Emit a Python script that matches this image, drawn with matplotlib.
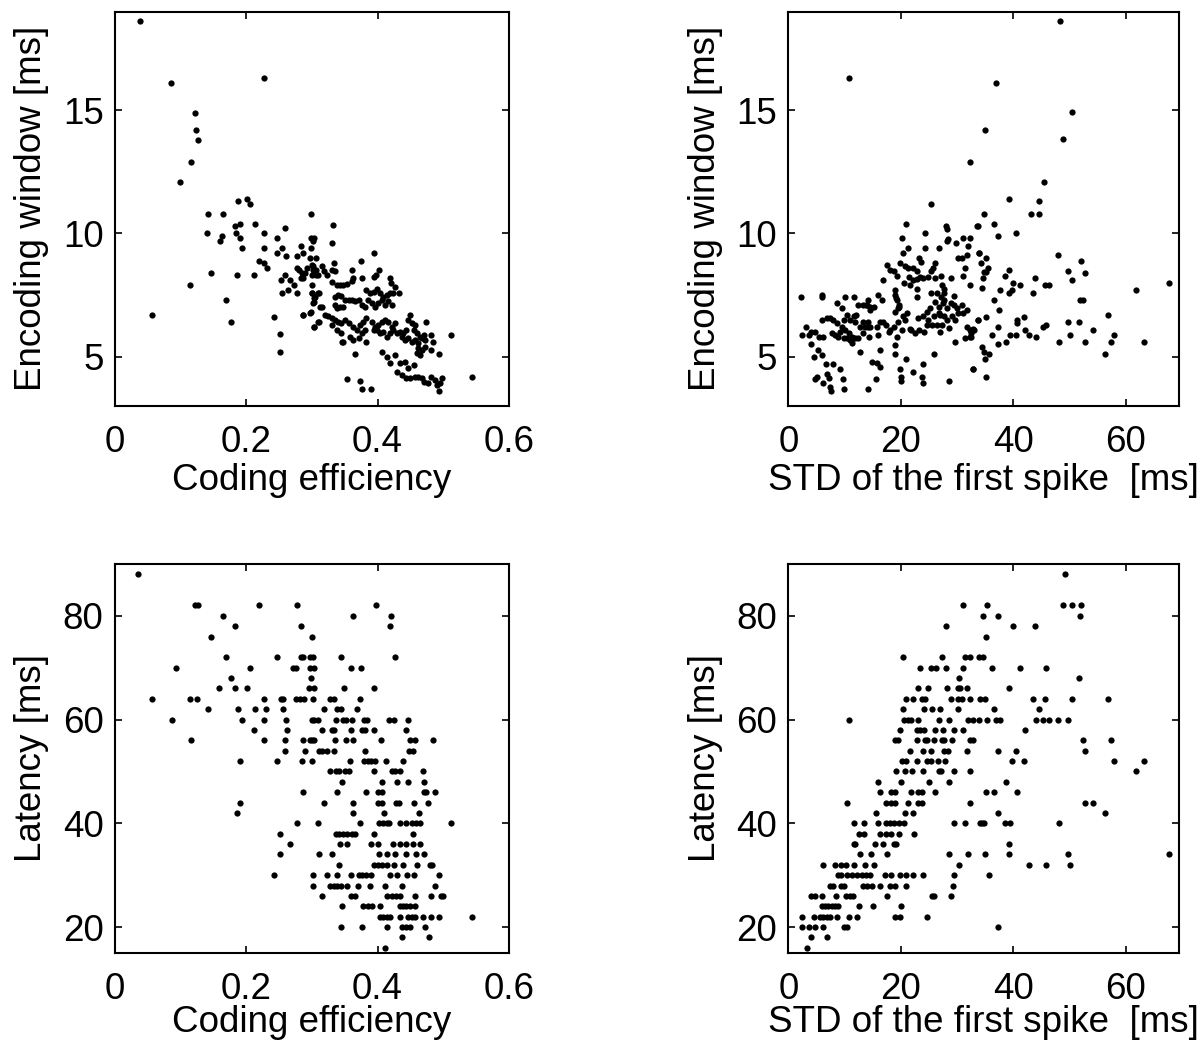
import numpy as np
import matplotlib
matplotlib.use("Agg")
import matplotlib.pyplot as plt

plt.rcParams['font.family'] = ['Liberation Sans', 'DejaVu Sans']

# ---------------- Panel A: coding efficiency vs encoding window ----------------
eff_vs_window = [
    (0.039, 18.6), (0.086, 16.1), (0.227, 16.3), (0.122, 14.9), (0.124, 14.2), (0.126, 13.8),
    (0.116, 12.9), (0.099, 12.1), (0.187, 11.3), (0.202, 11.4), (0.206, 11.2),
    (0.142, 10.8), (0.165, 10.8), (0.299, 10.8), (0.140, 10.0), (0.183, 10.3), (0.190, 10.4),
    (0.214, 10.4), (0.184, 10.0), (0.164, 9.9), (0.160, 9.7), (0.190, 9.8), (0.227, 10.0),
    (0.259, 10.2), (0.247, 9.8), (0.298, 9.8), (0.302, 9.7), (0.303, 9.8),
    (0.193, 9.4), (0.227, 9.4), (0.255, 9.4), (0.247, 9.2), (0.260, 9.1), (0.283, 9.5),
    (0.287, 9.2), (0.277, 9.1), (0.298, 9.4), (0.220, 8.9), (0.227, 8.8), (0.231, 8.6),
    (0.147, 8.4), (0.186, 8.3), (0.212, 8.3), (0.115, 7.9), (0.253, 8.1), (0.259, 8.3),
    (0.266, 8.1), (0.273, 7.9), (0.255, 7.6), (0.263, 7.7), (0.277, 7.6),
    (0.277, 8.6), (0.280, 8.5), (0.285, 8.4), (0.287, 8.2), (0.290, 8.4), (0.283, 8.2),
    (0.292, 8.6), (0.297, 9.0), (0.300, 8.7), (0.307, 9.0), (0.302, 8.5), (0.307, 8.3),
    (0.300, 8.3), (0.300, 7.9), (0.300, 7.6), (0.303, 7.4), (0.304, 7.2), (0.311, 7.6),
    (0.299, 6.8), (0.304, 6.2), (0.310, 6.4), (0.313, 7.0), (0.287, 6.7), (0.170, 7.3),
    (0.177, 6.4), (0.057, 6.7), (0.242, 6.6), (0.251, 5.9), (0.252, 5.2),
    (0.332, 10.33), (0.331, 9.61), (0.394, 9.20), (0.375, 8.90), (0.334, 8.82),
    (0.302, 8.66), (0.307, 8.52), (0.315, 8.69), (0.310, 8.32), (0.319, 8.46), (0.323, 8.32),
    (0.330, 8.52), (0.335, 8.46), (0.361, 8.50), (0.402, 8.50), (0.398, 8.32), (0.395, 8.23),
    (0.376, 8.19), (0.363, 8.19), (0.419, 8.19), (0.420, 7.98), (0.331, 8.01), (0.338, 7.91),
    (0.343, 7.91), (0.348, 7.91), (0.353, 7.94), (0.361, 8.05), (0.427, 7.81),
    (0.383, 7.71), (0.389, 7.58), (0.394, 7.64), (0.399, 7.74), (0.404, 7.58), (0.409, 7.44),
    (0.414, 7.51), (0.419, 7.58), (0.424, 7.60), (0.433, 7.58),
    (0.300, 7.58), (0.305, 7.44), (0.310, 7.58),
    (0.335, 7.44), (0.340, 7.51), (0.345, 7.47), (0.350, 7.30), (0.356, 7.30), (0.361, 7.30),
    (0.366, 7.24), (0.371, 7.30), (0.376, 7.10), (0.381, 7.03),
    (0.386, 7.30), (0.391, 7.17), (0.396, 7.03), (0.401, 7.17), (0.406, 7.30), (0.411, 7.10),
    (0.416, 7.24), (0.422, 7.10),
    (0.335, 7.10), (0.338, 6.97), (0.343, 7.03), (0.348, 7.00),
    (0.302, 7.17), (0.287, 6.69), (0.297, 6.79), (0.315, 7.01),
    (0.320, 6.69), (0.325, 6.63), (0.330, 6.56), (0.335, 6.49), (0.340, 6.42), (0.345, 6.36),
    (0.350, 6.49), (0.356, 6.36), (0.363, 6.22), (0.368, 6.09), (0.373, 6.29), (0.378, 6.42),
    (0.383, 6.56),
    (0.330, 6.29), (0.338, 6.09), (0.345, 5.95), (0.348, 5.61), (0.358, 5.81), (0.363, 5.68),
    (0.371, 5.75), (0.376, 5.95), (0.381, 6.09), (0.383, 5.61),
    (0.391, 6.42), (0.396, 6.22), (0.401, 6.29), (0.406, 6.42), (0.411, 6.49), (0.416, 6.42),
    (0.422, 6.22), (0.427, 6.36),
    (0.394, 6.09), (0.399, 6.09), (0.404, 5.95), (0.409, 6.02), (0.414, 5.81), (0.419, 5.95),
    (0.424, 6.09), (0.429, 5.95), (0.434, 6.02), (0.439, 5.95), (0.444, 6.09), (0.449, 6.69),
    (0.447, 6.49), (0.452, 6.36), (0.457, 6.29), (0.455, 6.09), (0.460, 5.95), (0.465, 5.81),
    (0.470, 5.88), (0.474, 6.42),
    (0.437, 5.81), (0.442, 5.68), (0.447, 5.75), (0.452, 5.61), (0.457, 5.68), (0.462, 5.54),
    (0.467, 5.75), (0.472, 5.68), (0.482, 5.88), (0.484, 5.61), (0.493, 5.10), (0.511, 5.88),
    (0.406, 5.20), (0.414, 5.00), (0.419, 4.73), (0.427, 5.07), (0.434, 4.73), (0.442, 4.80),
    (0.447, 4.53), (0.455, 4.66), (0.460, 5.14), (0.462, 5.34), (0.467, 5.27), (0.472, 5.41),
    (0.482, 5.27), (0.465, 5.07),
    (0.429, 4.39), (0.437, 4.26), (0.444, 4.12), (0.449, 4.12), (0.457, 4.19), (0.462, 4.19),
    (0.467, 4.12), (0.470, 3.98), (0.477, 3.92), (0.482, 4.19), (0.487, 4.05), (0.490, 3.85),
    (0.495, 3.94), (0.498, 4.12), (0.494, 3.61), (0.544, 4.19),
    (0.353, 4.09), (0.373, 4.01), (0.376, 3.69), (0.390, 3.69),
    (0.365, 5.10), (0.346, 5.60), (0.303, 6.22), (0.311, 6.42),
]

# ---------------- Panel B: STD of first spike vs encoding window ----------------
std_vs_window = [
    (48.3, 18.6), (10.7, 16.3), (36.9, 16.12), (50.5, 14.92), (35.0, 14.21), (48.9, 13.81),
    (32.3, 12.88), (45.5, 12.10), (25.3, 11.19), (39.2, 11.39), (44.5, 11.30),
    (20.9, 10.39), (28.0, 10.31), (28.2, 10.18), (28.3, 9.77), (28.2, 9.68), (24.3, 10.0),
    (33.6, 10.31), (20.2, 9.81), (31.0, 9.81), (29.8, 9.63), (32.3, 9.81), (32.0, 9.47),
    (33.8, 9.20), (21.3, 9.41), (20.4, 9.20), (24.2, 9.41), (26.8, 9.41), (23.3, 9.0),
    (23.5, 8.86), (26.0, 8.80), (25.7, 8.59), (25.4, 8.46),
    (19.9, 8.80), (20.7, 8.66), (21.3, 8.59), (22.1, 8.59), (22.8, 8.46), (23.4, 8.25),
    (24.0, 8.19), (24.9, 8.25), (26.1, 8.19),
    (17.6, 8.73), (18.1, 8.53), (18.7, 8.46), (19.3, 8.28), (16.9, 8.12),
    (21.5, 8.25), (22.1, 8.09), (22.8, 8.14), (20.6, 7.98), (21.6, 7.91), (22.9, 7.74),
    (30.8, 9.0), (30.1, 9.0), (31.4, 8.59), (31.7, 9.13), (31.1, 8.28), (28.9, 8.19),
    (27.2, 8.28), (27.3, 7.91), (27.6, 7.74), (27.7, 7.6), (32.3, 7.91),
    (19.0, 7.71), (19.0, 7.51), (19.1, 7.37), (19.3, 7.30), (19.7, 7.03), (19.4, 6.97),
    (19.0, 6.83), (19.6, 7.10), (22.9, 7.41),
    (16.0, 7.51), (16.6, 7.30), (14.1, 7.30), (13.3, 7.10), (13.8, 7.10), (14.5, 7.01), (15.3, 7.01),
    (25.3, 7.58), (26.1, 7.20), (26.7, 7.03), (27.6, 7.30), (28.2, 6.97), (28.9, 7.17),
    (29.4, 7.47), (29.9, 6.97), (30.8, 7.10), (29.4, 7.10),
    (26.4, 7.58), (27.2, 7.44), (27.5, 7.17),
    (25.2, 6.97), (24.6, 6.83), (27.0, 6.69), (27.6, 6.63), (28.2, 6.49), (29.1, 6.63),
    (29.6, 6.49), (30.2, 6.76), (31.0, 6.79), (31.7, 6.90),
    (33.7, 6.49), (31.7, 6.22), (32.3, 6.09), (32.2, 5.81), (32.9, 6.11), (31.4, 5.75), (29.6, 5.61),
    (21.0, 6.76), (20.8, 6.49), (20.3, 6.63), (19.4, 6.42), (18.7, 6.22), (18.1, 6.09),
    (17.4, 6.29), (17.8, 6.02),
    (23.1, 6.56), (24.0, 6.63), (24.9, 6.49), (25.8, 6.63), (26.7, 6.76), (25.5, 6.29),
    (26.4, 6.29), (27.3, 6.29), (24.7, 6.29), (24.1, 6.02), (23.2, 6.09), (22.5, 5.95),
    (21.8, 6.09), (27.0, 6.02), (28.5, 6.15),
    (16.3, 6.42), (16.9, 6.42), (15.7, 6.22), (16.0, 5.88), (14.5, 6.22), (13.3, 6.42),
    (14.2, 6.42), (12.1, 6.69), (11.6, 6.63), (11.9, 6.42), (10.4, 6.69), (11.0, 6.49),
    (9.8, 6.49), (8.6, 7.17), (9.5, 6.97), (10.1, 7.44), (11.6, 7.44), (12.4, 7.10),
    (14.0, 7.10), (14.5, 6.90),
    (7.4, 6.56), (8.0, 6.49), (6.8, 6.56), (5.9, 6.49), (8.6, 6.36), (9.5, 6.22), (10.1, 6.09),
    (10.7, 5.95), (11.3, 5.81), (11.9, 5.75), (9.2, 6.02), (8.3, 5.88), (8.9, 5.81),
    (7.7, 5.95), (9.8, 5.75), (10.4, 5.75), (11.0, 5.68), (12.7, 6.22), (13.6, 6.22),
    (14.2, 6.22), (13.3, 5.95), (14.4, 5.81), (12.4, 5.75),
    (5.9, 7.51), (6.0, 7.44), (2.3, 7.41),
    (3.1, 6.22), (4.1, 6.02), (4.7, 6.02), (5.5, 5.81), (6.2, 5.81), (3.6, 5.88), (2.4, 5.88),
    (4.0, 5.51), (5.2, 5.27), (4.6, 5.00), (6.0, 5.07),
    (12.7, 5.20), (11.3, 5.54), (16.3, 5.27), (19.0, 5.48), (19.3, 5.81), (20.2, 6.09), (21.6, 6.11),
    (6.6, 4.70), (7.9, 4.70), (9.1, 4.49), (4.7, 4.11), (5.0, 4.16), (6.9, 4.30), (7.3, 4.12),
    (6.2, 3.92), (7.4, 3.78), (7.5, 3.61), (9.7, 4.09), (9.8, 3.67), (14.2, 3.67), (14.8, 4.80),
    (15.7, 4.73), (16.3, 4.59), (15.6, 4.09), (19.0, 5.11), (19.9, 4.49), (20.0, 4.16),
    (20.0, 4.03), (20.9, 4.89), (22.2, 4.39), (23.7, 4.19), (23.9, 3.92), (24.0, 4.70),
    (25.8, 5.11), (28.6, 4.01), (32.9, 4.50),
    (43.2, 10.80), (44.5, 10.80), (34.7, 10.80), (33.7, 10.31), (36.5, 10.39), (37.2, 9.91),
    (40.4, 10.0), (33.9, 9.20), (35.2, 9.0), (34.3, 8.80), (35.4, 8.59), (34.7, 8.42),
    (35.1, 8.42), (34.6, 8.19), (39.2, 8.50), (38.5, 8.28), (40.0, 7.98), (41.1, 7.90),
    (39.3, 7.60), (39.8, 7.71), (37.6, 7.71), (34.4, 7.79), (43.8, 8.20), (43.5, 7.59),
    (45.7, 7.90), (46.4, 7.90), (48.0, 9.11), (49.7, 8.48), (50.4, 8.10), (52.1, 8.90),
    (52.7, 8.40), (51.9, 7.30), (52.3, 7.30), (61.8, 7.70), (67.6, 7.99),
    (36.6, 7.30), (37.4, 6.91), (33.7, 6.50), (35.2, 6.59), (37.2, 6.21), (40.7, 6.49),
    (40.6, 6.38), (41.8, 6.59), (33.0, 6.10), (32.5, 5.95), (32.5, 5.81), (36.2, 5.88),
    (37.2, 5.50), (38.7, 5.58), (39.4, 5.88), (40.4, 5.88), (42.0, 6.10), (42.8, 5.88),
    (44.1, 5.80), (45.2, 6.21), (45.8, 6.29), (49.8, 6.41), (51.7, 6.41), (54.2, 6.09),
    (50.0, 5.88), (48.1, 5.58), (52.7, 5.58), (56.9, 6.69), (57.9, 5.88), (57.4, 5.58),
    (56.3, 5.10), (63.3, 5.58), (34.4, 5.41), (34.8, 5.20), (35.75, 5.10), (35.0, 4.89),
    (32.8, 4.50), (35.2, 4.19),
]

# ---------------- Panel C: coding efficiency vs latency (latency in 2 ms bins) ----------------
latency_rows = [88, 82, 80, 78, 76, 72, 70, 68, 66, 64, 62, 60, 58, 56, 54, 52, 50, 48, 46,
                44, 42, 40, 38, 36, 34, 32, 30, 28, 26, 24, 22, 20, 18, 16]
eff_by_latency = [
    [0.036],
    [0.122, 0.126, 0.220, 0.278, 0.398],
    [0.165, 0.362, 0.420],
    [0.183, 0.283, 0.419],
    [0.147, 0.300],
    [0.170, 0.247, 0.284, 0.287, 0.297, 0.302, 0.344, 0.427],
    [0.094, 0.206, 0.272, 0.276, 0.297, 0.304, 0.359, 0.375],
    [0.177, 0.299],
    [0.159, 0.183, 0.201, 0.296, 0.304, 0.349, 0.395],
    [0.057, 0.115, 0.125, 0.227, 0.253, 0.256, 0.276, 0.282, 0.288, 0.301, 0.328, 0.333, 0.374],
    [0.142, 0.187, 0.214, 0.230, 0.256, 0.319, 0.338, 0.345, 0.369],
    [0.087, 0.194, 0.227, 0.260, 0.300, 0.304, 0.309, 0.336, 0.348, 0.352, 0.361, 0.379, 0.384,
     0.418, 0.425, 0.447],
    [0.212, 0.262, 0.315, 0.330, 0.334, 0.359, 0.377, 0.381, 0.395, 0.444],
    [0.116, 0.227, 0.259, 0.287, 0.297, 0.300, 0.304, 0.335, 0.352, 0.363, 0.405, 0.449, 0.457, 0.484],
    [0.259, 0.290, 0.311, 0.316, 0.323, 0.334, 0.381, 0.448, 0.454],
    [0.190, 0.247, 0.285, 0.300, 0.358, 0.380, 0.385, 0.390, 0.396, 0.413, 0.438],
    [0.328, 0.337, 0.342, 0.350, 0.356, 0.395, 0.422, 0.427, 0.434, 0.469],
    [0.346, 0.407, 0.429, 0.446, 0.471],
    [0.287, 0.339, 0.382, 0.401, 0.406, 0.470, 0.474, 0.487],
    [0.190, 0.319, 0.362, 0.401, 0.406, 0.428, 0.433, 0.455, 0.477],
    [0.186, 0.363, 0.410, 0.463],
    [0.277, 0.309, 0.373, 0.402, 0.408, 0.414, 0.418, 0.434, 0.443, 0.453, 0.459, 0.464, 0.511],
    [0.251, 0.337, 0.342, 0.347, 0.353, 0.361, 0.366, 0.395, 0.454],
    [0.266, 0.343, 0.354, 0.390, 0.401, 0.424, 0.434, 0.444, 0.454, 0.464],
    [0.252, 0.311, 0.331, 0.402, 0.414, 0.426, 0.444, 0.458, 0.470],
    [0.342, 0.394, 0.400, 0.406, 0.415, 0.425, 0.438, 0.460, 0.480, 0.483],
    [0.243, 0.302, 0.323, 0.338, 0.359, 0.372, 0.377, 0.383, 0.390, 0.419, 0.429, 0.445, 0.456, 0.493],
    [0.301, 0.327, 0.333, 0.339, 0.345, 0.353, 0.370, 0.389, 0.411, 0.437, 0.487],
    [0.315, 0.359, 0.366, 0.415, 0.422, 0.428, 0.434, 0.457, 0.482, 0.496, 0.499],
    [0.346, 0.378, 0.386, 0.391, 0.404, 0.434, 0.439, 0.444, 0.449, 0.457],
    [0.404, 0.409, 0.415, 0.419, 0.434, 0.447, 0.452, 0.457, 0.469, 0.481, 0.493, 0.544],
    [0.345, 0.377, 0.415, 0.437, 0.443, 0.449, 0.472],
    [0.437, 0.479],
    [0.411],
]

# ---------------- Panel D: STD of first spike vs latency ----------------
std_by_latency = [
    [49.2],
    [31.0, 35.3, 48.9, 50.5, 52.1],
    [34.6, 37.2, 51.9],
    [28.1, 40.0, 43.8],
    [35.1],
    [20.3, 27.3, 31.4, 32.3, 33.8, 34.6],
    [23.4, 25.3, 26.2, 28.0, 31.1, 36.2, 41.1, 45.8],
    [30.4, 51.6],
    [23.1, 24.9, 28.2, 30.1, 30.5, 31.8, 39.2],
    [20.9, 22.1, 23.8, 24.3, 28.9, 30.1, 30.8, 32.3, 34.0, 35.0, 43.5, 45.7, 50.4, 56.8],
    [20.3, 24.1, 25.5, 26.9, 30.2, 36.5, 44.5],
    [10.7, 20.6, 21.2, 21.8, 23.1, 26.8, 28.5, 32.0, 32.9, 33.8, 35.3, 36.9, 37.6, 44.1, 45.2,
     46.4, 47.9, 49.7],
    [19.9, 22.8, 23.4, 24.1, 26.1, 27.4, 29.5, 31.1, 42.0],
    [19.0, 19.4, 22.9, 24.3, 24.6, 25.9, 27.3, 27.7, 29.0, 32.2, 32.9, 52.3, 57.4],
    [21.6, 24.0, 25.3, 27.7, 28.3, 31.8, 37.3, 40.4, 52.7],
    [20.2, 20.9, 22.9, 24.6, 25.3, 26.6, 27.9, 39.8, 41.8, 57.9, 63.3],
    [19.2, 20.8, 21.9, 23.9, 26.7, 27.1, 29.5, 32.3, 61.8],
    [15.9, 20.1, 25.0, 28.6, 38.7],
    [16.3, 18.2, 19.0, 21.8, 23.1, 23.7, 26.0, 35.1, 36.6, 40.7],
    [10.4, 17.3, 18.2, 19.0, 21.2, 23.0, 23.8, 32.3, 52.7, 54.2],
    [15.6, 20.8, 22.1, 37.2, 56.3],
    [11.6, 13.5, 15.9, 17.3, 18.1, 18.7, 19.7, 20.6, 29.5, 31.4, 34.1, 34.4, 34.7, 38.5, 39.4, 48.1],
    [12.5, 13.5, 16.3, 17.3, 18.3, 19.7, 22.4],
    [11.7, 11.9, 15.4, 16.9, 18.8, 19.2, 39.2],
    [12.7, 14.7, 17.6, 28.6, 31.9, 34.9, 39.2, 49.8, 67.6],
    [6.1, 8.3, 9.3, 10.3, 11.6, 13.7, 15.3, 30.4, 42.8, 45.8, 50.0],
    [8.9, 9.4, 10.4, 11.3, 12.2, 13.0, 13.8, 14.5, 17.2, 18.3, 19.9, 20.9, 22.2, 24.0, 29.4, 35.7],
    [7.4, 7.9, 9.4, 9.8, 13.3, 14.0, 14.8, 16.3, 18.1, 18.9, 20.9, 29.2],
    [4.0, 4.7, 5.9, 8.5, 10.3, 11.0, 11.4, 17.6, 25.5, 25.9, 28.9],
    [5.9, 6.5, 7.1, 7.7, 8.3, 8.9, 12.6, 15.1, 20.0],
    [2.4, 4.6, 5.6, 6.2, 6.8, 7.4, 8.7, 10.7, 12.2, 19.0, 19.9, 24.7],
    [2.4, 3.7, 4.7, 6.2, 9.8, 10.5, 37.2],
    [4.1, 6.9],
    [3.3],
]

eff_ticks = [0, 0.2, 0.4, 0.6]
eff_ticklabels = ['0', '0.2', '0.4', '0.6']
std_ticks = [0, 20, 40, 60]
window_ticks = [5, 10, 15]
latency_ticks = [20, 40, 60, 80]

label_eff = 'Coding efficiency'
label_std = 'STD of the first spike  [ms]'
label_window = 'Encoding window [ms]'
label_latency = 'Latency [ms]'


def flatten_rows(rows, values):
    xs, ys = [], []
    for r, vals in zip(rows, values):
        for v in vals:
            xs.append(v)
            ys.append(r)
    return np.array(xs), np.array(ys)


W, H = 1201, 1044
fig = plt.figure(figsize=(W / 100, H / 100), dpi=100)

FS = 26.5
MS = 4.5


def style(ax):
    ax.tick_params(direction='in', length=5, width=1.2, labelsize=FS,
                   top=True, right=True)
    ax.tick_params(axis='x', pad=14)
    ax.tick_params(axis='y', pad=8)
    for s in ax.spines.values():
        s.set_linewidth(1.5)


def px_axes(left, right, top, bottom):
    return fig.add_axes([left / W, 1 - bottom / H, (right - left) / W, (bottom - top) / H])


# Panel A
axA = px_axes(114.7, 509.0, 11.5, 406.0)
a = np.array(eff_vs_window)
axA.plot(a[:, 0], a[:, 1], 'o', color='k', ms=MS, mec='none')
axA.set_xlim(0, 0.6)
axA.set_ylim(3.0, 19.0)
axA.set_xticks(eff_ticks)
axA.set_xticklabels(eff_ticklabels)
axA.set_yticks(window_ticks)
axA.set_xlabel(label_eff, fontsize=FS, labelpad=2)
axA.set_ylabel(label_window, fontsize=FS, labelpad=10)
style(axA)

# Panel B
axB = px_axes(788.4, 1179.3, 11.5, 406.0)
b = np.array(std_vs_window)
axB.plot(b[:, 0], b[:, 1], 'o', color='k', ms=MS, mec='none')
axB.set_xlim(0, 69.5)
axB.set_ylim(3.0, 19.0)
axB.set_xticks(std_ticks)
axB.set_yticks(window_ticks)
axB.set_xlabel(label_std, fontsize=FS, labelpad=2)
axB.set_ylabel(label_window, fontsize=FS, labelpad=10)
style(axB)

# Panel C
axC = px_axes(114.7, 509.0, 564.0, 953.0)
cx, cy = flatten_rows(latency_rows, eff_by_latency)
axC.plot(cx, cy, 'o', color='k', ms=MS, mec='none')
axC.set_xlim(0, 0.6)
axC.set_ylim(15, 90)
axC.set_xticks(eff_ticks)
axC.set_xticklabels(eff_ticklabels)
axC.set_yticks(latency_ticks)
axC.set_xlabel(label_eff, fontsize=FS, labelpad=-2)
axC.set_ylabel(label_latency, fontsize=FS, labelpad=10)
style(axC)

# Panel D
axD = px_axes(788.4, 1179.3, 564.0, 953.0)
dx, dy = flatten_rows(latency_rows, std_by_latency)
axD.plot(dx, dy, 'o', color='k', ms=MS, mec='none')
axD.set_xlim(0, 69.5)
axD.set_ylim(15, 90)
axD.set_xticks(std_ticks)
axD.set_yticks(latency_ticks)
axD.set_xlabel(label_std, fontsize=FS, labelpad=-2)
axD.set_ylabel(label_latency, fontsize=FS, labelpad=10)
style(axD)

fig.savefig('out.png', dpi=100)
